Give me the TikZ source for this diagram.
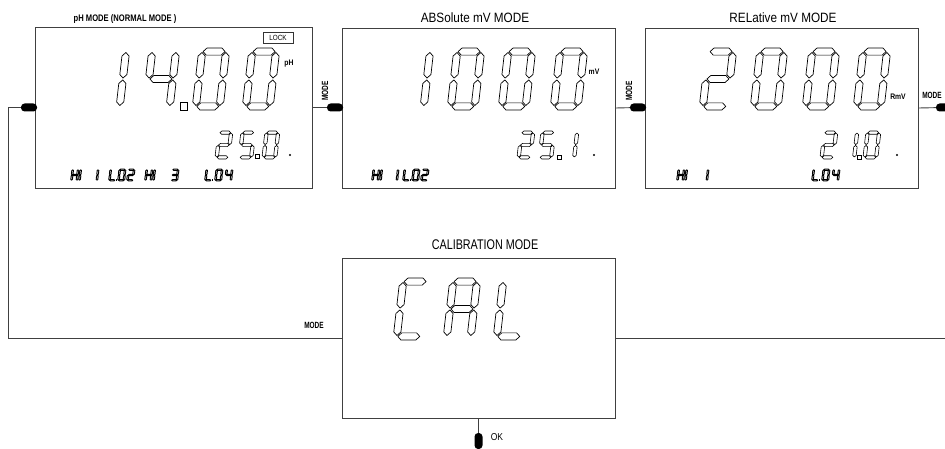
\documentclass[tikz,border=0pt]{standalone}
\usepackage{fontspec}
\setmainfont{Liberation Sans}
\newfontfamily\fttl[FakeStretch=0.87]{Liberation Sans}
\newfontfamily\fcal[FakeStretch=0.77]{Liberation Sans}
\newfontfamily\fbw[FakeStretch=0.8]{Liberation Sans}
\newfontfamily\fbn[FakeStretch=0.72]{Liberation Sans}
\newfontfamily\fsm[FakeStretch=0.85]{Liberation Sans}

\tikzset{
 seg/.style={draw=black, line width=0.6pt, line join=round},
 pics/sa/.style={code={\path[seg] (0.145,0.115) -- (0.26,0) -- (0.74,0) -- (0.855,0.115) -- (0.74,0.23) -- (0.26,0.23) -- cycle;}},
 pics/sg/.style={code={\path[seg] (0.145,1) -- (0.26,0.885) -- (0.74,0.885) -- (0.855,1) -- (0.74,1.115) -- (0.26,1.115) -- cycle;}},
 pics/sd/.style={code={\path[seg] (0.145,1.885) -- (0.26,1.77) -- (0.74,1.77) -- (0.855,1.885) -- (0.74,2) -- (0.26,2) -- cycle;}},
 pics/sf/.style={code={\path[seg] (0.115,0.145) -- (0.23,0.26) -- (0.23,0.855) -- (0.115,0.97) -- (0,0.855) -- (0,0.26) -- cycle;}},
 pics/se/.style={code={\path[seg] (0.115,1.03) -- (0.23,1.145) -- (0.23,1.74) -- (0.115,1.855) -- (0,1.74) -- (0,1.145) -- cycle;}},
 pics/sb/.style={code={\path[seg] (0.885,0.145) -- (1,0.26) -- (1,0.855) -- (0.885,0.97) -- (0.77,0.855) -- (0.77,0.26) -- cycle;}},
 pics/sc/.style={code={\path[seg] (0.885,1.03) -- (1,1.145) -- (1,1.74) -- (0.885,1.855) -- (0.77,1.74) -- (0.77,1.145) -- cycle;}},
 box/.style={draw=black!75, line width=0.9pt, minimum width=273pt, minimum height=160pt, inner sep=0pt},
 pill/.style={fill=black, rounded corners=3.6pt, inner sep=0pt, minimum width=16pt, minimum height=8pt},
 vpill/.style={pill, minimum width=8pt, minimum height=16pt},
 wire/.style={draw=black!75, line width=0.9pt},
 mlbl/.style={font={\fbn\bfseries\fontsize{9}{9}\selectfont}, inner sep=0pt},
 ttlb/.style={font={\fbw\bfseries\fontsize{9.5}{9.5}\selectfont}, inner sep=0pt},
 ttl/.style={font={\fttl\fontsize{13.5}{13.5}\selectfont}, inner sep=0pt},
 ttlc/.style={font={\fcal\fontsize{14}{14}\selectfont}, inner sep=0pt},
 unit/.style={font={\fsm\bfseries\fontsize{8}{8}\selectfont}, inner sep=0pt},
 oklbl/.style={font={\fsm\fontsize{10}{10}\selectfont}, inner sep=0pt},
 lockbox/.style={draw=black!80, line width=0.7pt, minimum width=30pt, minimum height=11pt, inner sep=0pt, font={\fsm\fontsize{7.5}{7.5}\selectfont}},
 dp/.style={draw=black, line width=0.6pt},
}

% x, y (top-left), width, height, line width, segments
\newcommand\lcdd[6]{%
 \begin{scope}[shift={(#1,#2)},xslant=0.115,x=#3pt,y={(0pt,-#4pt/2)},seg/.append style={line width=#5}]
 \foreach \s in {#6}{\edef\lcdtmp{\noexpand\pic[transform shape]{s\s};}\lcdtmp}
 \end{scope}}
\newcommand\bigd[3]{\lcdd{#1}{#2}{31}{62}{0.7pt}{#3}}
\newcommand\smd[3]{\lcdd{#1}{#2}{15}{28}{0.6pt}{#3}}
\newcommand\tnd[2]{\lcdd{#1}{169}{7}{12}{0.95pt}{#2}}
\newcommand\tdot[1]{\fill (#1+5.6,179) rectangle ++(1.8,1.8);}

\begin{document}
\begin{tikzpicture}[x=1pt,y=-1pt]
\fill[white] (0,0) rectangle (945,449);
\useasboundingbox (0,0) rectangle (945,449);

% boxes
\node[box, minimum width=277pt, minimum height=161pt] (b1) at (173.5,107.5) {};
\node[box] (b2) at (478.5,108) {};
\node[box] (b3) at (781.5,108) {};
\node[box] (cal) at (478.5,338) {};

% titles
\node[ttlb] (t1) at (125,19) {pH MODE (NORMAL MODE )};
\node[ttl] (t2) at (475,18) {ABSolute mV MODE};
\node[ttl] (t3) at (783,18) {RELative mV MODE};
\node[ttlc] (t4) at (485,245) {CALIBRATION MODE};

% buttons
\node[pill] (p1) at (29,107.5) {};
\node[pill] (p2) at (335,107.5) {};
\node[pill] (p3) at (638,107.5) {};
\node[pill] (p4) at (944,107.5) {};
\node[vpill] (p5) at (478.5,441) {};

\coordinate (lt) at (8,107.5);
\coordinate (lb) at (8,338);
\coordinate (re) at (945,338);

\draw[wire] (p1) -- (lt) -- (lb) -- (cal.west);
\draw[wire] (b1.east) -- (p2);
\draw[wire] (b2.east) -- (p3);
\draw[wire] (b3.east) -- (p4);
\draw[wire] (cal.east) -- (re);
\draw[wire] (cal.south) -- (p5);

% labels
\node[mlbl, rotate=90] (m12) at (325,91) {MODE};
\node[mlbl, rotate=90] (m23) at (629,91) {MODE};
\node[mlbl] (m3r) at (932,95) {MODE};
\node[mlbl] (mc) at (314,325) {MODE};
\node[oklbl] (ok) at (497,437) {OK};

% units and lock
\node[unit] (u1) at (289,64) {pH};
\node[unit] (u2) at (594,72) {mV};
\node[unit] (u3) at (898,97) {RmV};
\node[lockbox] (lock) at (278,37.5) {LOCK};

% ---- box 1 big digits 14.00
\bigd{99}{48}{b,c}
\bigd{149}{48}{f,g,b,c}
\draw[dp] (180,102) rectangle (187,110);
\bigd{199}{48}{a,b,c,d,e,f}
\bigd{249}{48}{a,b,c,d,e,f}
% box 1 small 25.0 .
\smd{218}{131}{a,b,g,e,d}
\smd{241}{131}{a,f,g,c,d}
\draw[dp] (255,154) rectangle (259,158);
\smd{265}{131}{a,b,c,d,e,f}
\fill (290,155) circle (1.2);
% box 1 bottom text HI 1 L.O2 HI 3 L.O4
\tnd{72}{b,c,e,f,g}
\tnd{80}{e,f}
\tnd{92}{b,c}
\tnd{110}{d,e,f}\tdot{110}
\tnd{119}{a,b,c,d,e,f}
\tnd{128}{a,b,g,e,d}
\tnd{146}{b,c,e,f,g}
\tnd{154}{e,f}
\tnd{172}{a,b,g,c,d}
\tnd{206}{d,e,f}\tdot{206}
\tnd{216}{a,b,c,d,e,f}
\tnd{226}{f,g,b,c}

% ---- box 2 big digits 1000
\bigd{403}{48}{b,c}
\bigd{454}{48}{a,b,c,d,e,f}
\bigd{505}{48}{a,b,c,d,e,f}
\bigd{557}{48}{a,b,c,d,e,f}
% small 25.1 .
\smd{520}{131}{a,b,g,e,d}
\smd{541}{131}{a,f,g,c,d}
\draw[dp] (557,155) rectangle (561,159);
\smd{564}{131}{b,c}
\fill (594,155) circle (1.2);
% bottom HI 1 L.O2
\tnd{373}{b,c,e,f,g}
\tnd{381}{e,f}
\tnd{392}{b,c}
\tnd{404}{d,e,f}\tdot{404}
\tnd{413}{a,b,c,d,e,f}
\tnd{422}{a,b,g,e,d}

% ---- box 3 big digits 2000
\bigd{706}{48}{a,b,g,e,d}
\bigd{757}{48}{a,b,c,d,e,f}
\bigd{809}{48}{a,b,c,d,e,f}
\bigd{860}{48}{a,b,c,d,e,f}
% small 2 1.0 .
\smd{823}{131}{a,b,g,e,d}
\smd{844}{131}{b,c}
\draw[dp] (857,155) rectangle (861,159);
\smd{866}{131}{a,b,c,d,e,f}
\fill (897,155) circle (1.2);
% bottom HI 1      L.O4
\tnd{678}{b,c,e,f,g}
\tnd{686}{e,f}
\tnd{702}{b,c}
\tnd{813}{d,e,f}\tdot{813}
\tnd{823}{a,b,c,d,e,f}
\tnd{833}{f,g,b,c}

% ---- CAL
\bigd{400}{278}{a,f,e,d}
\bigd{450}{278}{a,b,c,e,f,g}
\bigd{500}{278}{f,e,d}
\end{tikzpicture}
\end{document}
